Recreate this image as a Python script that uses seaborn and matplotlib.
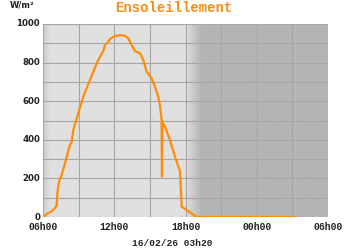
import numpy as np
import pandas as pd
import matplotlib
matplotlib.use("Agg")
import matplotlib.pyplot as plt
import seaborn as sns

# data: hours since 06h00, irradiance W/m2
hours = [0, 0.4, 0.67, 0.95, 1.15, 1.22, 1.29, 1.37, 1.57, 1.85, 2.27, 2.42, 2.55,
         2.97, 3.39, 3.96, 4.52, 4.8, 5.08, 5.22, 5.5, 5.64, 6.04, 6.2, 6.5, 6.9,
         7.18, 7.47, 7.75, 8.17, 8.45, 8.73, 9.15, 9.43, 9.71, 9.85, 9.98, 10.02,
         10.05, 10.1, 10.27, 10.69, 11.12, 11.54, 11.68, 12.1, 12.94, 21.33]
values = [0, 19, 27, 42, 60, 130, 160, 185, 218, 278, 373, 390, 450,
          537, 623, 710, 796, 830, 860, 891, 908, 922, 938, 938, 942, 939,
          926, 891, 860, 848, 813, 753, 718, 675, 623, 580, 510, 209,
          500, 485, 468, 399, 312, 235, 53, 36, 0, 0]
x_ticks = [0, 6, 12, 18, 24]
x_labels = ["06h00", "12h00", "18h00", "00h00", "06h00"]
y_ticks = [0, 200, 400, 600, 800, 1000]
title = "Ensoleillement"
unit = "W/m\u00b2"
stamp = "16/02/26 03h20"

sns.set_theme(style="white")
plt.rcParams['font.family'] = ['DejaVu Sans']

fig = plt.figure(figsize=(3.5, 2.5), dpi=100)
ax = fig.add_axes([43/350, 33/250, 285/350, 193/250])

# background shading: day light, night darker with gradients
tt = np.linspace(0, 24, 961)
light, dark = 0.878, 0.71
shade = np.full_like(tt, dark)
day = (tt >= 0.6) & (tt <= 12.0)
shade[day] = light
m = tt < 0.6
shade[m] = 0.80 + (light - 0.80) * (tt[m] / 0.6)
m = (tt > 12.0) & (tt < 13.3)
shade[m] = light - (light - dark) * ((tt[m] - 12.0) / 1.3)
img = np.tile(shade, (2, 1))
ax.imshow(img, cmap="gray", vmin=0, vmax=1, aspect="auto",
          extent=[0, 24, 0, 1000], origin="lower", zorder=0, interpolation="bilinear")

df = pd.DataFrame({"h": hours, "v": values})
sns.lineplot(data=df, x="h", y="v", ax=ax, color="#ff8c0a", lw=1.6, zorder=3)

ax.set_xlim(0, 24)
ax.set_ylim(0, 1000)
ax.set_xticks(np.arange(0, 25, 3))
ax.set_yticks(np.arange(0, 1001, 100))
ax.grid(True, color="#a6a6a6", lw=0.8, zorder=1)
ax.set_axisbelow(False)
ax.set_xticklabels([])
ax.set_yticklabels([])
ax.tick_params(length=0)
for s in ax.spines.values():
    s.set_visible(False)
ax.set_xlabel("")
ax.set_ylabel("")

for xt, lab in zip(x_ticks, x_labels):
    ax.text(xt, -25, lab, ha="center", va="top", fontsize=7, fontweight="bold",
            family="Liberation Mono", color="#222222", clip_on=False)
for yt in y_ticks:
    ax.text(-0.25, yt, str(yt), ha="right", va="center", fontsize=6.2,
            fontweight="bold", color="#222222", clip_on=False)

fig.text(174/350, 1 - 8/250, title, ha="center", va="center", fontsize=10,
         fontweight="bold", family="Liberation Mono", color="#ff8c0a")
fig.text(10/350, 1 - 5/250, unit, ha="left", va="center", fontsize=6,
         fontweight="bold", color="#222222")
fig.text(172/350, 1 - 243/250, stamp, ha="center", va="center", fontsize=6.8,
         fontweight="bold", family="Liberation Mono", color="#222222")

fig.savefig("out.png", dpi=100, facecolor="white")
